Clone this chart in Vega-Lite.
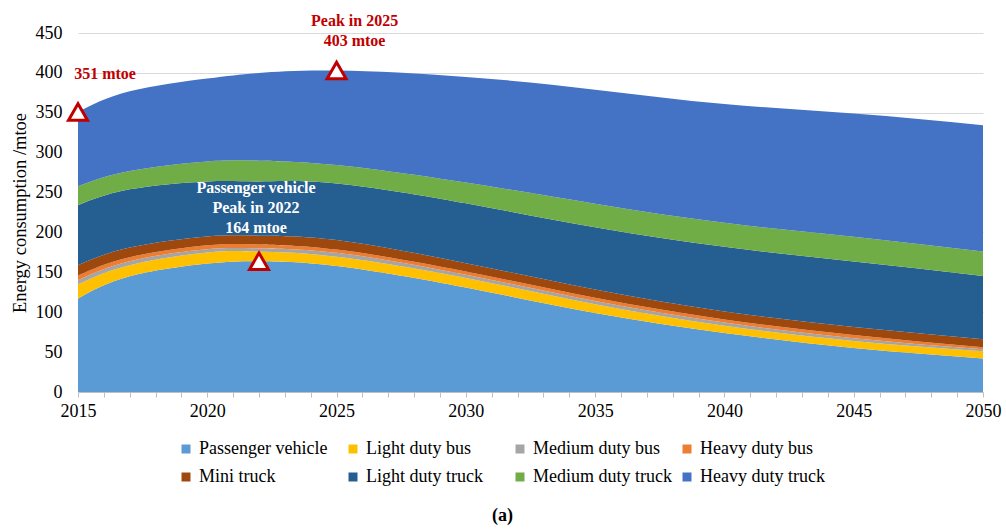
{
  "$schema": "https://vega.github.io/schema/vega-lite/v6.json",
  "width": 905,
  "height": 359,
  "autosize": "none",
  "padding": {"left": 78, "top": 33, "right": 23, "bottom": 138},
  "background": "white",
  "config": {
    "font": "Liberation Serif",
    "view": {"stroke": null},
    "axis": {"labelFont": "Liberation Serif", "titleFont": "Liberation Serif", "labelColor": "#000000", "titleColor": "#000000", "labelOverlap": false, "labelBound": false},
    "legend": {"labelFont": "Liberation Serif"}
  },
  "datasets": {
    "energy": [
      {"year": 2015, "type": "Passenger vehicle", "mtoe": 117},
      {"year": 2015, "type": "Light duty bus", "mtoe": 18},
      {"year": 2015, "type": "Medium duty bus", "mtoe": 5},
      {"year": 2015, "type": "Heavy duty bus", "mtoe": 6},
      {"year": 2015, "type": "Mini truck", "mtoe": 13},
      {"year": 2015, "type": "Light duty truck", "mtoe": 75},
      {"year": 2015, "type": "Medium duty truck", "mtoe": 24},
      {"year": 2015, "type": "Heavy duty truck", "mtoe": 93},
      {"year": 2017, "type": "Passenger vehicle", "mtoe": 145},
      {"year": 2017, "type": "Light duty bus", "mtoe": 14},
      {"year": 2017, "type": "Medium duty bus", "mtoe": 5},
      {"year": 2017, "type": "Heavy duty bus", "mtoe": 5},
      {"year": 2017, "type": "Mini truck", "mtoe": 12},
      {"year": 2017, "type": "Light duty truck", "mtoe": 73},
      {"year": 2017, "type": "Medium duty truck", "mtoe": 23},
      {"year": 2017, "type": "Heavy duty truck", "mtoe": 100},
      {"year": 2020, "type": "Passenger vehicle", "mtoe": 161},
      {"year": 2020, "type": "Light duty bus", "mtoe": 14},
      {"year": 2020, "type": "Medium duty bus", "mtoe": 4},
      {"year": 2020, "type": "Heavy duty bus", "mtoe": 5},
      {"year": 2020, "type": "Mini truck", "mtoe": 11},
      {"year": 2020, "type": "Light duty truck", "mtoe": 69},
      {"year": 2020, "type": "Medium duty truck", "mtoe": 25},
      {"year": 2020, "type": "Heavy duty truck", "mtoe": 104},
      {"year": 2022, "type": "Passenger vehicle", "mtoe": 164},
      {"year": 2022, "type": "Light duty bus", "mtoe": 12},
      {"year": 2022, "type": "Medium duty bus", "mtoe": 4},
      {"year": 2022, "type": "Heavy duty bus", "mtoe": 5},
      {"year": 2022, "type": "Mini truck", "mtoe": 11},
      {"year": 2022, "type": "Light duty truck", "mtoe": 68},
      {"year": 2022, "type": "Medium duty truck", "mtoe": 26},
      {"year": 2022, "type": "Heavy duty truck", "mtoe": 110},
      {"year": 2025, "type": "Passenger vehicle", "mtoe": 158},
      {"year": 2025, "type": "Light duty bus", "mtoe": 11.5},
      {"year": 2025, "type": "Medium duty bus", "mtoe": 5},
      {"year": 2025, "type": "Heavy duty bus", "mtoe": 4},
      {"year": 2025, "type": "Mini truck", "mtoe": 12},
      {"year": 2025, "type": "Light duty truck", "mtoe": 71},
      {"year": 2025, "type": "Medium duty truck", "mtoe": 23},
      {"year": 2025, "type": "Heavy duty truck", "mtoe": 118.5},
      {"year": 2030, "type": "Passenger vehicle", "mtoe": 131},
      {"year": 2030, "type": "Light duty bus", "mtoe": 12},
      {"year": 2030, "type": "Medium duty bus", "mtoe": 4},
      {"year": 2030, "type": "Heavy duty bus", "mtoe": 4},
      {"year": 2030, "type": "Mini truck", "mtoe": 10.5},
      {"year": 2030, "type": "Light duty truck", "mtoe": 75},
      {"year": 2030, "type": "Medium duty truck", "mtoe": 26},
      {"year": 2030, "type": "Heavy duty truck", "mtoe": 132.5},
      {"year": 2035, "type": "Passenger vehicle", "mtoe": 99},
      {"year": 2035, "type": "Light duty bus", "mtoe": 11},
      {"year": 2035, "type": "Medium duty bus", "mtoe": 4},
      {"year": 2035, "type": "Heavy duty bus", "mtoe": 4},
      {"year": 2035, "type": "Mini truck", "mtoe": 10.5},
      {"year": 2035, "type": "Light duty truck", "mtoe": 78},
      {"year": 2035, "type": "Medium duty truck", "mtoe": 29.5},
      {"year": 2035, "type": "Heavy duty truck", "mtoe": 143},
      {"year": 2040, "type": "Passenger vehicle", "mtoe": 74},
      {"year": 2040, "type": "Light duty bus", "mtoe": 9},
      {"year": 2040, "type": "Medium duty bus", "mtoe": 4},
      {"year": 2040, "type": "Heavy duty bus", "mtoe": 4},
      {"year": 2040, "type": "Mini truck", "mtoe": 10},
      {"year": 2040, "type": "Light duty truck", "mtoe": 81},
      {"year": 2040, "type": "Medium duty truck", "mtoe": 30},
      {"year": 2040, "type": "Heavy duty truck", "mtoe": 149},
      {"year": 2045, "type": "Passenger vehicle", "mtoe": 55},
      {"year": 2045, "type": "Light duty bus", "mtoe": 9},
      {"year": 2045, "type": "Medium duty bus", "mtoe": 3.5},
      {"year": 2045, "type": "Heavy duty bus", "mtoe": 4},
      {"year": 2045, "type": "Mini truck", "mtoe": 10},
      {"year": 2045, "type": "Light duty truck", "mtoe": 82},
      {"year": 2045, "type": "Medium duty truck", "mtoe": 31},
      {"year": 2045, "type": "Heavy duty truck", "mtoe": 154.5},
      {"year": 2050, "type": "Passenger vehicle", "mtoe": 42},
      {"year": 2050, "type": "Light duty bus", "mtoe": 9},
      {"year": 2050, "type": "Medium duty bus", "mtoe": 2.5},
      {"year": 2050, "type": "Heavy duty bus", "mtoe": 2.5},
      {"year": 2050, "type": "Mini truck", "mtoe": 10},
      {"year": 2050, "type": "Light duty truck", "mtoe": 79.5},
      {"year": 2050, "type": "Medium duty truck", "mtoe": 30.5},
      {"year": 2050, "type": "Heavy duty truck", "mtoe": 158.5}
    ],
    "milestones": [
      {"note": "start", "year": 2015, "mtoe": 351},
      {"note": "totalPeak", "year": 2025, "mtoe": 403},
      {"note": "passengerPeak", "year": 2022, "mtoe": 164}
    ]
  },
  "encoding": {
    "x": {
      "field": "year",
      "type": "quantitative",
      "scale": {"domain": [2015, 2050], "nice": false, "zero": false},
      "axis": {
        "values": [2015, 2016, 2017, 2018, 2019, 2020, 2021, 2022, 2023, 2024, 2025, 2026, 2027, 2028, 2029, 2030, 2031, 2032, 2033, 2034, 2035, 2036, 2037, 2038, 2039, 2040, 2041, 2042, 2043, 2044, 2045, 2046, 2047, 2048, 2049, 2050],
        "format": "d",
        "labelExpr": "datum.value % 5 === 0 ? datum.label : ''",
        "labelFlush": false,
        "labelOverlap": false,
        "labelFontSize": 18,
        "labelPadding": 5,
        "tickSize": 5,
        "tickColor": "#bfbfbf",
        "domainColor": "#bfbfbf",
        "grid": false,
        "title": "(a)",
        "titleFontSize": 18,
        "titleFontWeight": "bold",
        "titleX": 424,
        "titleY": 123,
        "titleBaseline": "middle",
        "titleAnchor": "middle"
      }
    },
    "y": {
      "field": "mtoe",
      "type": "quantitative",
      "scale": {"domain": [0, 450], "nice": false},
      "axis": {
        "values": [0, 50, 100, 150, 200, 250, 300, 350, 400, 450],
        "grid": true,
        "gridColor": "#d9d9d9",
        "domain": false,
        "ticks": false,
        "labelOverlap": false,
        "labelFontSize": 18,
        "labelPadding": 16,
        "title": "Energy consumption /mtoe",
        "titleFontSize": 18.5,
        "titleFontWeight": "normal",
        "titlePadding": 6
      }
    }
  },
  "layer": [
    {
      "data": {"name": "energy"},
      "transform": [
        {"calculate": "indexof(['Passenger vehicle','Light duty bus','Medium duty bus','Heavy duty bus','Mini truck','Light duty truck','Medium duty truck','Heavy duty truck'], datum.type)", "as": "stackOrder"}
      ],
      "mark": {"type": "area", "interpolate": "natural"},
      "encoding": {
        "y": {"field": "mtoe", "type": "quantitative", "stack": "zero"},
        "color": {
          "field": "type",
          "type": "nominal",
          "scale": {
            "domain": ["Passenger vehicle", "Light duty bus", "Medium duty bus", "Heavy duty bus", "Mini truck", "Light duty truck", "Medium duty truck", "Heavy duty truck"],
            "range": ["#5B9BD5", "#FFC000", "#A5A5A5", "#ED7D31", "#9E480E", "#255E91", "#70AD47", "#4472C4"]
          },
          "legend": {
            "orient": "none",
            "legendX": 99,
            "legendY": 407,
            "direction": "horizontal",
            "columns": 4,
            "gridAlign": "all",
            "columnPadding": 6,
            "rowPadding": 10,
            "padding": 0,
            "title": null,
            "symbolType": "square",
            "symbolSize": 81,
            "symbolStrokeWidth": 0,
            "symbolOpacity": 1,
            "labelFontSize": 18,
            "labelOffset": 4,
            "labelColor": "#000000",
            "labelLimit": 300
          }
        },
        "order": {"field": "stackOrder", "type": "quantitative", "sort": "ascending"}
      }
    },
    {
      "data": {"name": "milestones"},
      "mark": {"type": "point", "shape": "triangle-up", "filled": true, "fill": "white", "stroke": "#C00000", "strokeWidth": 3, "size": 360, "opacity": 1}
    },
    {
      "data": {"name": "milestones"},
      "transform": [
        {"filter": "datum.note === 'start'"},
        {"calculate": "datum.mtoe + ' mtoe'", "as": "caption"}
      ],
      "mark": {"type": "text", "font": "Liberation Serif", "fontWeight": "bold", "fontSize": 16, "color": "#C00000", "align": "center", "baseline": "middle", "dx": 27, "dy": -38},
      "encoding": {
        "text": {"field": "caption", "type": "nominal"}
      }
    },
    {
      "data": {"name": "milestones"},
      "transform": [
        {"filter": "datum.note === 'totalPeak'"},
        {"calculate": "['Peak in ' + datum.year, datum.mtoe + ' mtoe']", "as": "caption"}
      ],
      "mark": {"type": "text", "font": "Liberation Serif", "fontWeight": "bold", "fontSize": 16, "color": "#C00000", "align": "center", "baseline": "middle", "lineHeight": 20, "dx": 18, "dy": -49},
      "encoding": {
        "text": {"field": "caption", "type": "nominal"}
      }
    },
    {
      "data": {"name": "milestones"},
      "transform": [
        {"filter": "datum.note === 'passengerPeak'"},
        {"calculate": "['Passenger vehicle', 'Peak in ' + datum.year, datum.mtoe + ' mtoe']", "as": "caption"}
      ],
      "mark": {"type": "text", "font": "Liberation Serif", "fontWeight": "bold", "fontSize": 16, "color": "#FFFFFF", "align": "center", "baseline": "middle", "lineHeight": 20, "dx": -3, "dy": -73},
      "encoding": {
        "text": {"field": "caption", "type": "nominal"}
      }
    }
  ]
}
